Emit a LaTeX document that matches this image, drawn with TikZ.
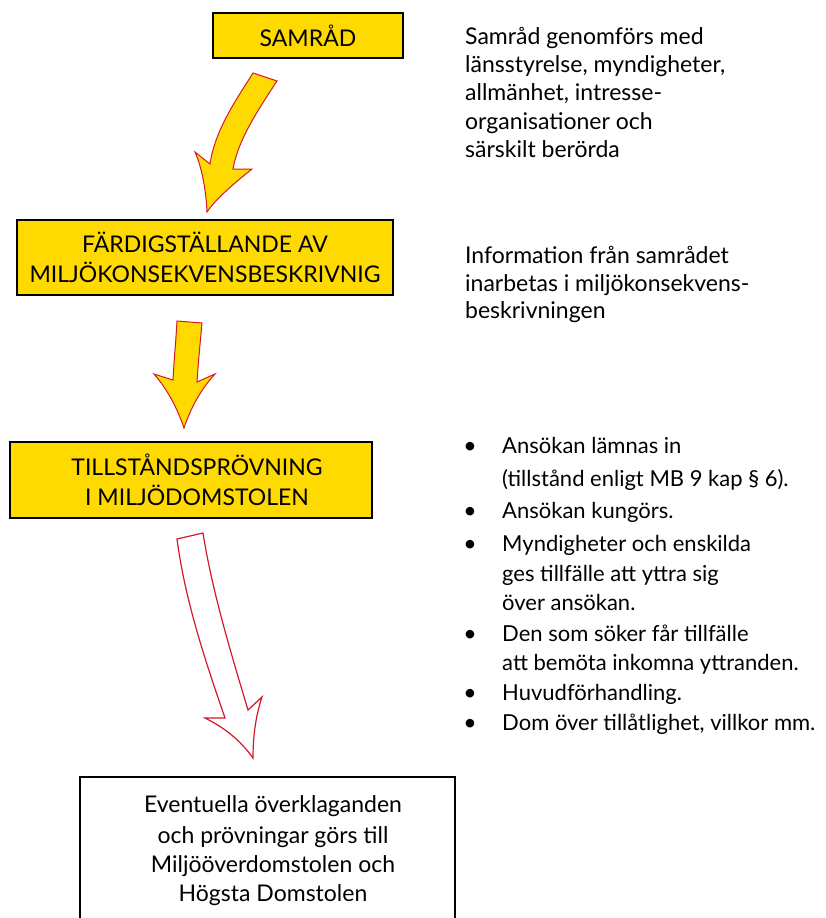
\documentclass[tikz,border=0pt]{standalone}
\usepackage{fontspec}
\setmainfont{Lato}
\definecolor{ayel}{RGB}{255,218,0}
\definecolor{ared}{RGB}{214,24,44}
\begin{document}
\begin{tikzpicture}[x=1pt,y=-1pt,
  ybox/.style={draw=black, line width=2pt, fill=ayel, inner sep=0, align=center, font=\fontsize{23}{30}\selectfont},
  wbox/.style={draw=black, line width=2pt, fill=white, inner sep=0},
  fatarrow/.style={draw=ared, line width=1pt, fill=ayel, line join=miter},
  hollowarrow/.style={draw=ared, line width=1.2pt, fill=white, line join=miter},
  txt/.style={inner sep=0, anchor=base west, font=\fontsize{23}{29}\selectfont},
  ltxt/.style={inner sep=0, anchor=base west, font=\fontsize{22}{29}\selectfont},
  ctxt/.style={inner sep=0, anchor=base, font=\fontsize{23}{29}\selectfont},
  bul/.style={inner sep=0, anchor=base, font=\fontsize{23}{29}\selectfont}]
\useasboundingbox (0,0) rectangle (825,918);
\fill[white] (0,0) rectangle (825,918);

% boxes
\node[ybox, minimum width=190pt, minimum height=45pt] (b1) at (308,35.5) {SAMRÅD};
\node[ybox, minimum width=376pt, minimum height=75pt] (b2) at (205,257.5) {FÄRDIGSTÄLLANDE AV\\MILJÖKONSEKVENSBESKRIVNIG};
\node[ybox, minimum width=362pt, minimum height=76pt] (b3) at (191,480) {\hspace*{12pt}TILLSTÅNDSPRÖVNING\\\hspace*{12pt}I MILJÖDOMSTOLEN};
\node[wbox, minimum width=375pt, minimum height=148pt] (b4) at (267.5,851) {};

% arrows
\draw[fatarrow] (253,73) -- (277,81) .. controls (258,110) and (238,140) .. (233,169)
  -- (252,169) .. controls (232,185) and (215,200) .. (207,212)
  .. controls (206,190) and (202,168) .. (195,152)
  -- (210,164) .. controls (215,130) and (236,100) .. (253,73) -- cycle;
\draw[fatarrow] (177,321) -- (202,323) .. controls (200,345) and (198,365) .. (197,382)
  -- (215,374) .. controls (200,390) and (190,410) .. (184,428)
  .. controls (178,410) and (168,390) .. (154,374)
  -- (173,380) .. controls (174,360) and (176,340) .. (177,321) -- cycle;
\draw[hollowarrow] (177,539) -- (203,533) .. controls (212,590) and (230,650) .. (248,710)
  -- (262,697) .. controls (256,715) and (253,735) .. (253,758)
  .. controls (240,740) and (225,728) .. (205,718)
  -- (225,718) .. controls (205,660) and (185,600) .. (177,539) -- cycle;

% right text 1
\node[txt] (t1a) at (465,44) {Samråd genomförs med};
\node[txt] (t1b) at (465,72) {länsstyrelse, myndigheter,};
\node[txt] (t1c) at (465,100) {allmänhet, intresse-};
\node[txt] (t1d) at (465,129) {organisationer och};
\node[txt] (t1e) at (465,157) {särskilt berörda};

% right text 2
\node[txt] (t2a) at (465,263) {Information från samrådet};
\node[txt] (t2b) at (465,291) {inarbetas i miljökonsekvens-};
\node[txt] (t2c) at (465,318) {beskrivningen};

% bullets
\node[bul] (d1) at (470,453) {•};
\node[ltxt] (l1) at (502,453) {Ansökan lämnas in};
\node[ltxt] (l2) at (502,486) {(tillstånd enligt MB 9 kap § 6).};
\node[bul] (d2) at (470,518) {•};
\node[ltxt] (l3) at (502,518) {Ansökan kungörs.};
\node[bul] (d3) at (470,551) {•};
\node[ltxt] (l4) at (502,551) {Myndigheter och enskilda};
\node[ltxt] (l5) at (502,581) {ges tillfälle att yttra sig};
\node[ltxt] (l6) at (502,610) {över ansökan.};
\node[bul] (d4) at (470,641) {•};
\node[ltxt] (l7) at (502,641) {Den som söker får tillfälle};
\node[ltxt] (l8) at (502,670) {att bemöta inkomna yttranden.};
\node[bul] (d5) at (470,700) {•};
\node[ltxt] (l9) at (502,700) {Huvudförhandling.};
\node[bul] (d6) at (470,730) {•};
\node[ltxt] (l10) at (502,730) {Dom över tillåtlighet, villkor mm.};

% bottom box text
\node[ctxt] (b4a) at (273,812) {Eventuella överklaganden};
\node[ctxt] (b4b) at (273,843) {och prövningar görs till};
\node[ctxt] (b4c) at (273,872) {Miljööverdomstolen och};
\node[ctxt] (b4d) at (273,901) {Högsta Domstolen};
\end{tikzpicture}
\end{document}
